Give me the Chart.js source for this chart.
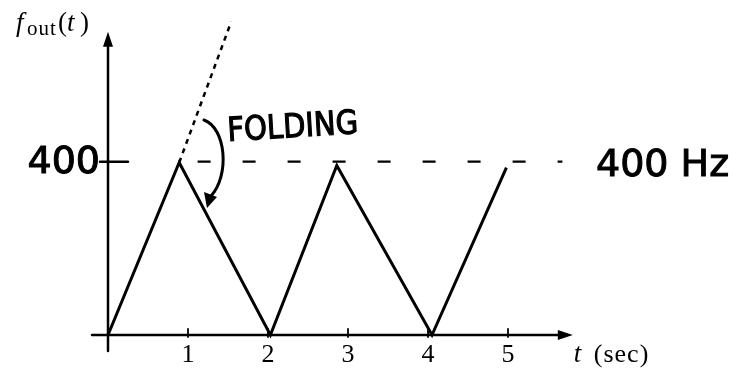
<!DOCTYPE html>
<html>
<head>
<meta charset="utf-8">
<script src="https://cdn.jsdelivr.net/npm/chart.js@4"></script>
<style>
html,body{margin:0;padding:0;background:#fff;}
canvas{display:block;}
</style>
</head>
<body>
<canvas id="c" width="736" height="378"></canvas>
<script>
// ---- data ----
const tValues = [0, 0.89, 2.03, 2.86, 4.05, 4.98];      // folded output frequency corners (sec)
const fValues = [0, 398, 0, 391, 0, 386];                // Hz
const unfoldedT = [0.89, 1.54];                          // dotted continuation (no folding)
const unfoldedF = [398, 723];
const refT = [1.12, 5.68];                               // dashed 400 Hz reference level
const refF = [400, 400];
const xTicks = [1, 2, 3, 4, 5];
const xTickLabels = ['1', '2', '3', '4', '5'];
const yTick = 400;
const yTickLabel = '400';
const xTitle = '(sec)';
const refLabel = '400 Hz';
const foldLabel = 'FOLDING';

const toPts = (xs, ys) => xs.map((x, i) => ({x: x, y: ys[i]}));
const SERIF = '"Liberation Serif", "DejaVu Serif", serif';

const decor = {
  id: 'decor',
  afterDatasetsDraw(chart) {
    const ctx = chart.ctx;
    const X = chart.scales.x, Y = chart.scales.y;
    const x0 = X.getPixelForValue(0), y0 = Y.getPixelForValue(0);
    ctx.save();
    ctx.strokeStyle = '#000'; ctx.fillStyle = '#000';
    ctx.lineCap = 'round';
    // x axis
    const xEnd = X.getPixelForValue(5.81);
    ctx.lineWidth = 2.5;
    ctx.beginPath(); ctx.moveTo(x0 - 16, y0); ctx.lineTo(xEnd - 6, y0); ctx.stroke();
    ctx.beginPath(); ctx.moveTo(xEnd, y0); ctx.lineTo(xEnd - 15, y0 - 5); ctx.lineTo(xEnd - 15, y0 + 5); ctx.closePath(); ctx.fill();
    // y axis
    const yTop = Y.getPixelForValue(700);
    ctx.beginPath(); ctx.moveTo(x0, y0 + 16); ctx.lineTo(x0, yTop + 6); ctx.stroke();
    ctx.beginPath(); ctx.moveTo(x0, yTop); ctx.lineTo(x0 - 5, yTop + 15); ctx.lineTo(x0 + 5, yTop + 15); ctx.closePath(); ctx.fill();
    // x ticks and labels
    ctx.lineWidth = 1.8;
    ctx.font = '26px ' + SERIF;
    ctx.textAlign = 'center'; ctx.textBaseline = 'alphabetic';
    xTicks.forEach((t, i) => {
      const px = X.getPixelForValue(t);
      ctx.beginPath(); ctx.moveTo(px, y0 - 6); ctx.lineTo(px, y0 + 2); ctx.stroke();
      ctx.fillText(xTickLabels[i], px, y0 + 27);
    });
    // x title: t (sec)
    ctx.textAlign = 'left';
    ctx.font = 'italic 27px ' + SERIF;
    ctx.fillText('t', xEnd + 1, y0 + 27);
    ctx.font = '26px ' + SERIF;
    ctx.letterSpacing = '1px';
    ctx.fillText(xTitle, xEnd + 21, y0 + 27);
    ctx.letterSpacing = '0px';
    // y tick at 400
    const y400 = Y.getPixelForValue(yTick);
    ctx.lineWidth = 2.5;
    ctx.beginPath(); ctx.moveTo(x0 - 8, y400); ctx.lineTo(x0 + 20, y400); ctx.stroke();
    ctx.font = '38px "DejaVu Sans", sans-serif';
    ctx.textAlign = 'right'; ctx.textBaseline = 'middle';
    ctx.lineWidth = 1;
    ctx.fillText(yTickLabel, x0 - 8, y400 + 1);
    ctx.strokeText(yTickLabel, x0 - 8, y400 + 1);
    // y title f_out(t)
    ctx.textAlign = 'left'; ctx.textBaseline = 'alphabetic';
    ctx.font = 'italic 27px ' + SERIF;
    ctx.fillText('f', 16, 31);
    ctx.font = '21px ' + SERIF;
    ctx.letterSpacing = '1px';
    ctx.fillText('out', 27, 35);
    ctx.letterSpacing = '0px';
    ctx.font = '27px ' + SERIF;
    ctx.fillText('(', 58, 31);
    ctx.font = 'italic 27px ' + SERIF;
    ctx.fillText('t', 67, 31);
    ctx.font = '27px ' + SERIF;
    ctx.fillText(')', 80, 31);
    // 400 Hz label
    ctx.textBaseline = 'middle';
    ctx.font = '38px "DejaVu Sans", sans-serif';
    ctx.lineWidth = 1;
    ctx.fillText(refLabel, 596, y400 + 4);
    ctx.strokeText(refLabel, 596, y400 + 4);
    // FOLDING label (slightly tilted, hand lettering)
    ctx.save();
    ctx.translate(228, 141);
    ctx.rotate(-0.06);
    ctx.scale(0.88, 1);
    ctx.textBaseline = 'alphabetic';
    ctx.font = '33px "DejaVu Sans", sans-serif';
    ctx.lineWidth = 1.2;
    ctx.fillText(foldLabel, 0, 0);
    ctx.strokeText(foldLabel, 0, 0);
    ctx.restore();
    // curved folding arrow
    ctx.lineWidth = 3;
    ctx.beginPath();
    ctx.moveTo(204, 120);
    ctx.bezierCurveTo(226, 128, 230, 175, 211, 196);
    ctx.stroke();
    ctx.beginPath();
    ctx.moveTo(207, 208);
    ctx.lineTo(204, 192);
    ctx.lineTo(217, 197);
    ctx.closePath(); ctx.fill();
    ctx.restore();
  }
};

new Chart(document.getElementById('c'), {
  type: 'scatter',
  data: {
    datasets: [
      {data: toPts(tValues, fValues), showLine: true, borderColor: '#000', borderWidth: 3, pointRadius: 0, tension: 0, clip: false},
      {data: toPts(unfoldedT, unfoldedF), showLine: true, borderColor: '#000', borderWidth: 2.5, borderDash: [5, 5], pointRadius: 0, clip: false},
      {data: toPts(refT, refF), showLine: true, borderColor: '#000', borderWidth: 2.2, borderDash: [13, 32], pointRadius: 0, clip: false}
    ]
  },
  options: {
    responsive: false,
    animation: false,
    devicePixelRatio: 1,
    layout: {padding: {left: 108, right: 148, top: 10, bottom: 43}},
    plugins: {legend: {display: false}, tooltip: {enabled: false}},
    scales: {
      x: {type: 'linear', min: 0, max: 6, display: false},
      y: {type: 'linear', min: 0, max: 750, display: false}
    }
  },
  plugins: [decor]
});
</script>
</body>
</html>
